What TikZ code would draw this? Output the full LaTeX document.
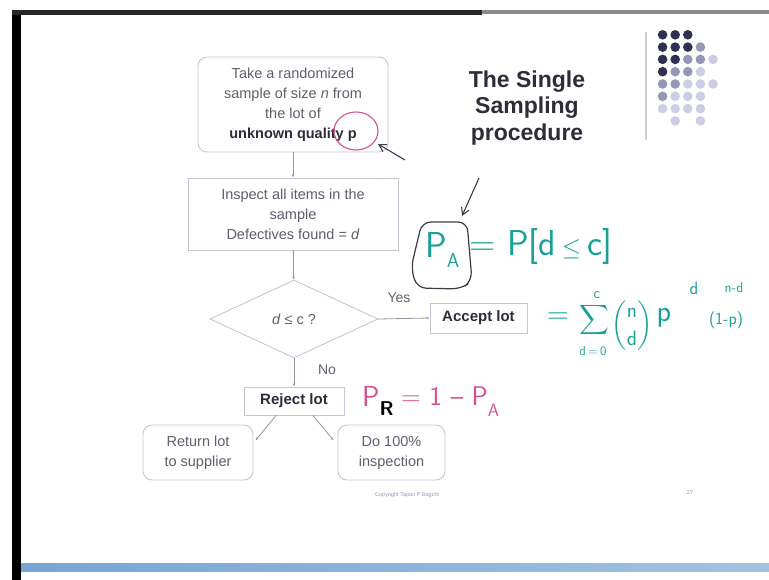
\documentclass[tikz,border=0pt]{standalone}
\usepackage{fontspec}
\usepackage{amsmath}
\setmainfont{Liberation Sans}
\usetikzlibrary{shapes.geometric,arrows.meta,calc}
\definecolor{boxline}{RGB}{196,198,214}
\definecolor{txtgray}{RGB}{95,95,108}
\definecolor{boldtxt}{RGB}{45,45,58}
\definecolor{linegray}{RGB}{150,150,165}
\definecolor{ink}{RGB}{25,160,150}
\definecolor{pinkink}{RGB}{212,80,140}
\definecolor{pen}{RGB}{60,60,72}
\definecolor{dotD}{RGB}{48,48,82}
\definecolor{dotM}{RGB}{150,150,182}
\definecolor{dotL}{RGB}{205,205,228}
\tikzset{
  flowbox/.style={draw=boxline, line width=0.9pt, fill=white, text=txtgray, align=center, inner sep=0pt, font=\fontsize{14.5}{20}\selectfont},
  rbox/.style={flowbox, rounded corners=9pt},
  boldbox/.style={flowbox, text=boldtxt, font=\fontsize{15}{20}\selectfont\bfseries},
  conn/.style={draw=linegray, line width=0.8pt, -{Latex[length=3pt,width=2.6pt]}},
  lbl/.style={text=txtgray, font=\fontsize{14}{16}\selectfont},
  hand/.style={font=\sffamily},
  penarrow/.style={draw=pen, line width=1.1pt, -{Straight Barb[length=7pt,width=8pt]}}
}
\begin{document}
\begin{tikzpicture}[x=1pt,y=-1pt]
\useasboundingbox (0,0) rectangle (769,580);
% slide frame
\fill[black] (12,12) rectangle (21,580);
\fill[black!85] (12,10) rectangle (482,15);
\fill[black!45] (482,10) rectangle (769,14);
\shade[left color={rgb,255:red,120;green,165;blue,210}, right color={rgb,255:red,160;green,195;blue,225}] (21,563) rectangle (769,571);
% decorative dots
\draw[draw={rgb,255:red,205;green,205;blue,215}, line width=1.5pt] (646,32) -- (646,140);
\foreach \c/\r/\s in {1/1/dotD,2/1/dotD,3/1/dotD,
  1/2/dotD,2/2/dotD,3/2/dotD,4/2/dotM,
  1/3/dotD,2/3/dotD,3/3/dotM,4/3/dotM,5/3/dotL,
  1/4/dotD,2/4/dotM,3/4/dotM,4/4/dotL,
  1/5/dotM,2/5/dotM,3/5/dotL,4/5/dotL,5/5/dotL,
  1/6/dotM,2/6/dotL,3/6/dotL,4/6/dotL,
  1/7/dotL,2/7/dotL,3/7/dotL,4/7/dotL,
  2/8/dotL,4/8/dotL}
  \fill[\s] ({650+12.6*\c},{22.5+12.3*\r}) circle (4.8pt);
% title
\node[align=center, text=boldtxt, font=\fontsize{23}{26.5}\selectfont\bfseries] (title) at (527,108) {The Single\\Sampling\\procedure};
% flowchart
\node[rbox, minimum width=190pt, minimum height=95pt] (b1) at (293,104.5)
  {Take a randomized\\sample of size \textit{n} from\\the lot of\\\textcolor{boldtxt}{\bfseries unknown quality p}};
\node[flowbox, minimum width=210pt, minimum height=72pt] (b2) at (293,214)
  {Inspect all items in the\\sample\\Defectives found = \textit{d}};
\node[diamond, draw=boxline, line width=0.9pt, text=txtgray, inner sep=0pt, minimum width=168pt, minimum height=78pt, font=\fontsize{14.5}{18}\selectfont] (dia) at (294,319) {\textit{d} ≤ c ?};
\node[boldbox, minimum width=97pt, minimum height=30pt] (acc) at (478.5,318) {Accept lot};
\node[boldbox, minimum width=100pt, minimum height=28pt] (rej) at (294,401) {Reject lot};
\node[rbox, minimum width=110pt, minimum height=55pt] (ret) at (198,452.5) {Return lot\\to supplier};
\node[rbox, minimum width=107pt, minimum height=55pt] (do) at (391.5,452.5) {Do 100\%\\inspection};
\draw[conn] (b1) -- (b2);
\draw[conn] (b2) -- (dia);
\draw[conn] (dia.east) -- (acc.west);
\draw[conn] (dia.south) -- (rej.north);
\draw[conn] ($(rej.south)+(-18,0)$) -- ($(ret.east)+(2,-12)$);
\draw[conn] ($(rej.south)+(19,0)$) -- ($(do.west)+(-4,-12)$);
\node[lbl] (yes) at (399,298) {Yes};
\node[lbl] (no) at (327,370) {No};
% footer
\node[text={rgb,255:red,150;green,150;blue,190}, font=\fontsize{5.5}{6}\selectfont] (copy) at (407,495) {Copyright Tapan P Bagchi};
\node[text=txtgray!70, font=\fontsize{5.5}{6}\selectfont] (pg) at (690,493) {27};
% handwritten annotations
\draw[pinkink, line width=1.1pt] (356,131) ellipse (22pt and 19pt);
\coordinate (a1s) at (405,160);
\coordinate (a1e) at (378,144);
\draw[penarrow] (a1s) -- (a1e);
\coordinate (a2s) at (479,178);
\coordinate (a2e) at (462,216);
\draw[penarrow] (a2s) -- (a2e);
\draw[pen, line width=1.2pt, rounded corners=9pt] (422,222) -- (467,222) -- (472,281) -- (461,289) -- (417,288) -- (411,268) -- cycle;
\node[hand, text=ink, anchor=west, inner sep=0pt, font=\sffamily\fontsize{36}{36}\selectfont] (pa) at (425,250) {P\raisebox{-0.3em}{\fontsize{20}{20}\selectfont A}};
\node[hand, text=ink, anchor=west, font=\sffamily\fontsize{36}{36}\selectfont] (eq1) at (466,247) {= P[d\,$\leq$\,c]};
\node[hand, text=ink, font=\sffamily\fontsize{30}{30}\selectfont] (eq2) at (558,318) {=};
\node[text=ink, font=\fontsize{22}{22}\selectfont] (sig) at (594,320) {$\displaystyle\sum$};
\node[hand, text=ink, font=\sffamily\fontsize{15}{15}\selectfont] (sigc) at (597,295) {c};
\node[hand, text=ink, font=\sffamily\fontsize{13}{13}\selectfont] (sigd) at (593,351) {d\,=\,0};
\node[text=ink, font=\sffamily\fontsize{21}{21}\selectfont] (bin) at (632,326) {$\dbinom{\mathsf{n}}{\mathsf{d}}$};
\node[hand, text=ink, font=\sffamily\fontsize{30}{30}\selectfont] (pp) at (664,318) {p};
\node[hand, text=ink, font=\sffamily\fontsize{18}{18}\selectfont] (pd) at (694,288) {d};
\node[hand, text=ink, font=\sffamily\fontsize{17}{17}\selectfont] (onep) at (726,320) {(1-p)};
\node[hand, text=ink, font=\sffamily\fontsize{14}{14}\selectfont] (nd) at (734,288) {n-d};
\node[hand, anchor=west, inner sep=0pt, font=\sffamily\fontsize{29}{29}\selectfont] (pr) at (362,401) {\textcolor{pinkink}{P}\raisebox{-0.3em}{\bfseries\fontsize{20}{20}\selectfont R}};
\node[hand, text=pinkink, anchor=west, inner sep=0pt, font=\sffamily\fontsize{27}{27}\selectfont] (eq3) at (401,402) {= 1 -- P\raisebox{-0.4em}{\fontsize{18}{18}\selectfont A}};
\end{tikzpicture}
\end{document}
